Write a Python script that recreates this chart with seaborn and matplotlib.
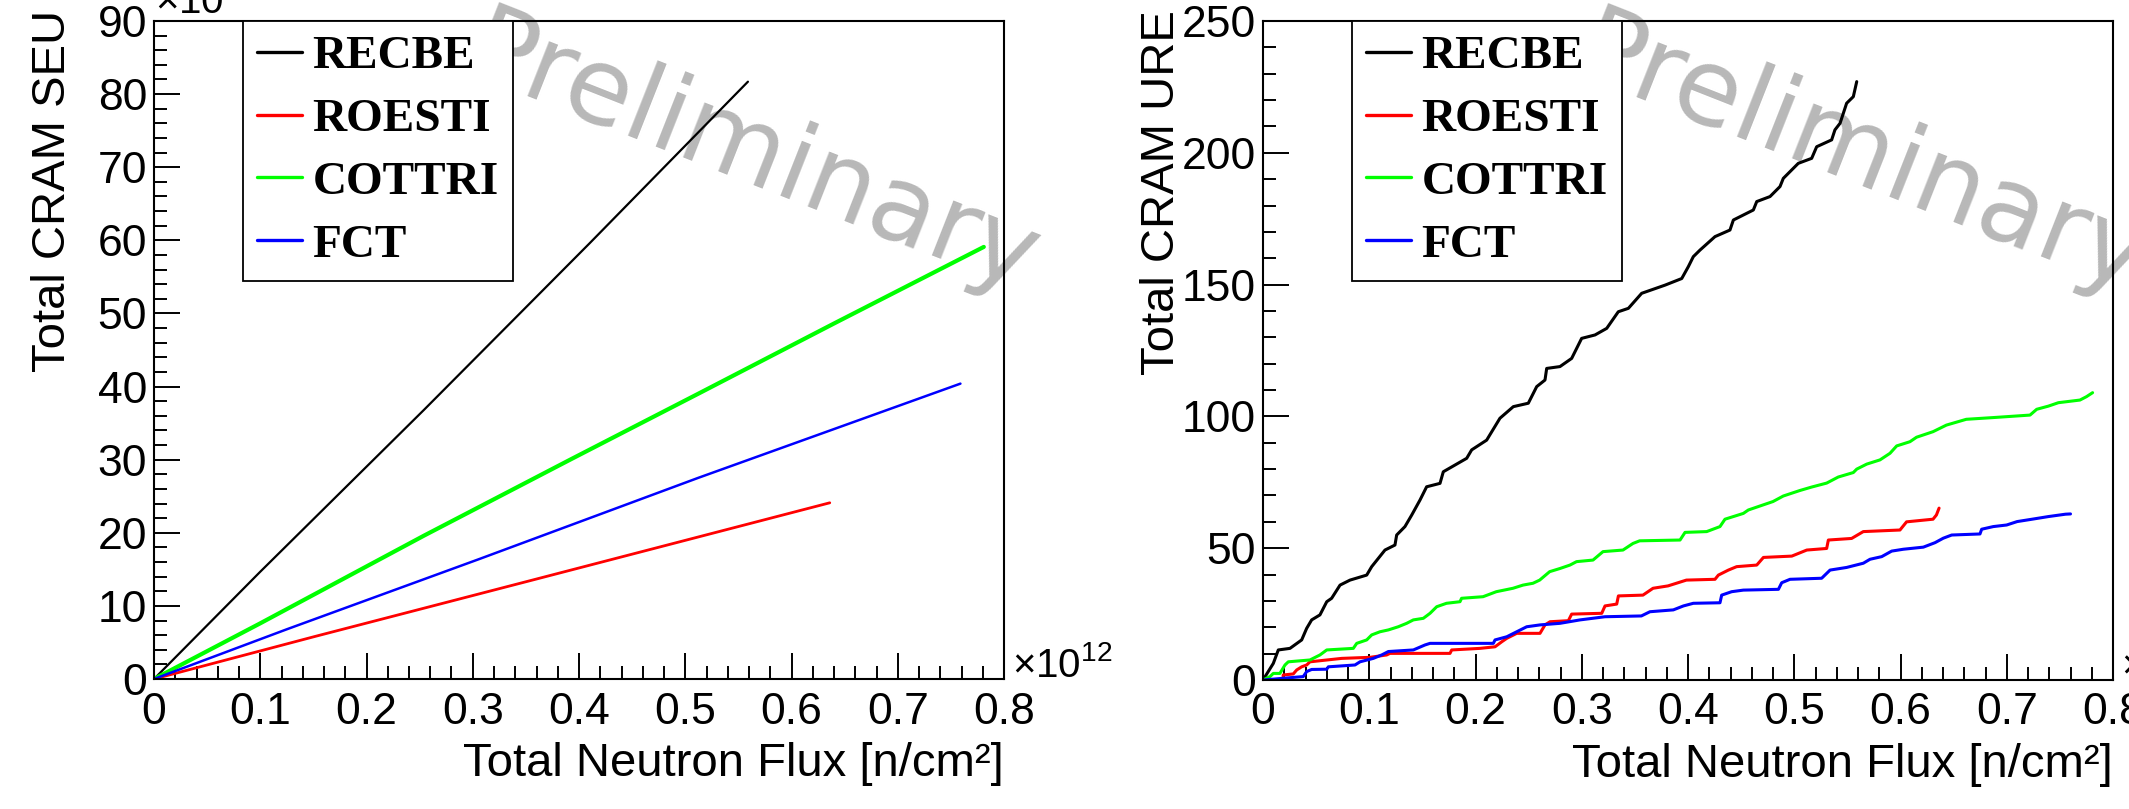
import matplotlib
matplotlib.use('Agg')
import matplotlib.pyplot as plt
from matplotlib.ticker import MultipleLocator
import seaborn as sns

# ---- data (flux in units of 1e12 n/cm^2) ----
names = ['RECBE', 'ROESTI', 'COTTRI', 'FCT']
colors = ['#000000', '#ff0000', '#00ff00', '#0000ff']

# left panel: total CRAM SEU (x1e3)
seu_recbe_x = [0, 0.0995, 0.254, 0.41, 0.559]
seu_recbe_y = [0, 14.6, 36.8, 59.6, 81.7]
seu_roesti_x = [0, 0.151, 0.358, 0.636]
seu_roesti_y = [0, 5.8, 13.6, 24.1]
seu_cottri_x = [0, 0.0998, 0.254, 0.393, 0.512, 0.641, 0.781]
seu_cottri_y = [0, 7.6, 19.6, 30.1, 39.0, 48.7, 59.1]
seu_fct_x = [0, 0.125, 0.306, 0.512, 0.759]
seu_fct_y = [0, 6.8, 16.4, 27.5, 40.4]

# right panel: total CRAM URE
ure_recbe_x = [0, 0.0097, 0.0144, 0.0254, 0.0364, 0.0411, 0.0458, 0.0536, 0.06, 0.0646,
               0.0725, 0.0819, 0.0976, 0.1023, 0.1148, 0.1242, 0.1258, 0.1336, 0.14, 0.1478,
               0.154, 0.1666, 0.1697, 0.1917, 0.1964, 0.2105, 0.223, 0.2356, 0.2497, 0.2576,
               0.2654, 0.267, 0.2795, 0.2905, 0.2999, 0.3125, 0.3235, 0.3344, 0.3439, 0.3564,
               0.3784, 0.3941, 0.4003, 0.405, 0.4113, 0.4254, 0.4395, 0.4427, 0.4615, 0.4647,
               0.4772, 0.4866, 0.4897, 0.5038, 0.5164, 0.5211, 0.5352, 0.5383, 0.5431, 0.5493,
               0.5556, 0.5588]
ure_recbe_y = [0, 6.3, 11.4, 12, 15.2, 19.6, 22.8, 24.7, 29.7, 31,
               36, 37.9, 39.8, 43, 49.3, 51.2, 55, 58.2, 62.6, 68.3,
               73.3, 74.6, 79, 84.1, 87.3, 91, 99.3, 103.7, 105, 111.3,
               113.8, 118.2, 118.9, 122, 129.6, 130.9, 133.4, 139.7, 141, 146.7,
               149.8, 152.3, 156.8, 160.6, 163.1, 168.2, 170.7, 174.5, 178.3, 181.5,
               183.4, 187.2, 190.3, 196, 197.9, 202.3, 204.9, 208.7, 211.2, 218.8,
               221.3, 227]

ure_roesti_x = [0, 0.019, 0.019, 0.0285, 0.0317, 0.0364, 0.0411, 0.0442, 0.0741, 0.1007,
                0.1164, 0.1195, 0.176, 0.1776, 0.2042, 0.2184, 0.2247, 0.2294, 0.2388, 0.2607,
                0.2654, 0.2701, 0.2874, 0.2905, 0.3188, 0.3219, 0.3329, 0.3345, 0.3576, 0.3671,
                0.3812, 0.3985, 0.4254, 0.4286, 0.438, 0.4458, 0.4647, 0.471, 0.4977, 0.5118,
                0.5305, 0.5321, 0.554, 0.565, 0.5995, 0.6057, 0.6306, 0.6338, 0.6363]
ure_roesti_y = [0, 0, 1.9, 2.3, 3.8, 5, 5.7, 6.9, 8.2, 8.6,
                9.5, 10.1, 10.1, 11.4, 12, 12.6, 14.5, 15.8, 17.7, 17.7,
                20.9, 22.1, 22.5, 25, 25.3, 28.1, 28.8, 31.9, 32.2, 34.8,
                35.7, 37.9, 38.2, 39.8, 41.7, 43, 43.6, 46.5, 47, 49.3,
                49.9, 53.1, 53.7, 56.3, 56.9, 60, 61, 62.6, 65.2]

ure_cottri_x = [0, 0.0066, 0.0097, 0.0159, 0.0207, 0.0238, 0.0442, 0.0536, 0.06, 0.085,
                0.0882, 0.0976, 0.1023, 0.1101, 0.118, 0.1273, 0.1352, 0.1415, 0.1509, 0.1572,
                0.1635, 0.1727, 0.1854, 0.1869, 0.2071, 0.2196, 0.2353, 0.2447, 0.2541, 0.2604,
                0.2698, 0.2795, 0.2889, 0.2951, 0.3106, 0.32, 0.3388, 0.3482, 0.3545, 0.3925,
                0.3972, 0.4176, 0.4301, 0.4348, 0.4521, 0.4568, 0.48, 0.4897, 0.5054, 0.5164,
                0.5305, 0.5414, 0.5556, 0.5588, 0.5682, 0.5807, 0.5901, 0.5964, 0.6089, 0.6151,
                0.6306, 0.6432, 0.6619, 0.6889, 0.7219, 0.7282, 0.7392, 0.7486, 0.7689, 0.7751,
                0.7808]
ure_cottri_y = [0, 1.3, 2.5, 2.5, 5.7, 6.9, 7.6, 9.5, 11.4, 12,
                13.9, 15.2, 17.1, 18.3, 19, 20.2, 21.5, 22.8, 23.4, 25.3,
                27.8, 29.1, 29.7, 31, 31.6, 33.5, 34.8, 36, 36.7, 37.9,
                41.1, 42.3, 43.6, 44.9, 45.5, 48.7, 49.3, 51.8, 52.8, 53.1,
                56, 56.3, 58.2, 61, 63.2, 64.5, 67.7, 69.8, 71.9, 73.2,
                74.7, 77, 78.7, 80, 81.9, 83.5, 86, 88.8, 90.4, 92.1,
                94.2, 96.7, 98.9, 99.6, 100.5, 102.7, 103.9, 105.2, 106.2, 107.5,
                109]

ure_fct_x = [0, 0.0379, 0.0411, 0.0458, 0.06, 0.0615, 0.0866, 0.0913, 0.1038, 0.1117,
             0.118, 0.1415, 0.1525, 0.1572, 0.2168, 0.2184, 0.2294, 0.2388, 0.2482, 0.2607,
             0.2795, 0.2984, 0.3219, 0.3561, 0.3642, 0.3862, 0.3957, 0.405, 0.4301, 0.4317,
             0.4411, 0.4521, 0.4851, 0.4882, 0.496, 0.5258, 0.5337, 0.5493, 0.565, 0.5713,
             0.5823, 0.5917, 0.6026, 0.6215, 0.6325, 0.6403, 0.6482, 0.6748, 0.6764, 0.6873,
             0.6999, 0.7098, 0.7239, 0.7392, 0.7553, 0.76]
ure_fct_y = [0, 1.3, 3.2, 4, 4.1, 5, 5.7, 6.9, 8.2, 9.5,
             10.8, 11.4, 13.3, 13.9, 13.9, 15.2, 16.4, 18.3, 20.2, 20.9,
             21.5, 22.8, 24, 24.3, 25.9, 26.6, 28.1, 29.1, 29.3, 32.2,
             33.5, 34.1, 34.4, 36.9, 38.2, 38.6, 41.7, 42.7, 44.3, 45.8,
             46.8, 48.9, 49.6, 50.4, 52.1, 53.8, 55, 55.4, 57.2, 58.2,
             58.8, 60.1, 61, 62, 62.9, 63]

x_ticks = [0, 0.1, 0.2, 0.3, 0.4, 0.5, 0.6, 0.7, 0.8]
x_ticklabels = ['0', '0.1', '0.2', '0.3', '0.4', '0.5', '0.6', '0.7', '0.8']
seu_ticks = [0, 10, 20, 30, 40, 50, 60, 70, 80, 90]
ure_ticks = [0, 50, 100, 150, 200, 250]

# ---- style ----
sns.set_style('ticks')
plt.rcParams['font.family'] = ['Liberation Sans', 'DejaVu Sans']
plt.rcParams['mathtext.fontset'] = 'custom'
plt.rcParams['mathtext.rm'] = 'Liberation Sans'
plt.rcParams['mathtext.it'] = 'Liberation Sans:italic'
plt.rcParams['text.color'] = 'black'
plt.rcParams['axes.labelcolor'] = 'black'
plt.rcParams['xtick.color'] = 'black'
plt.rcParams['ytick.color'] = 'black'

W, H = 2129, 809
fig = plt.figure(figsize=(W / 100, H / 100), dpi=100)
ax1 = fig.add_axes([154 / W, 130 / H, 850 / W, 658 / H])
ax2 = fig.add_axes([1263 / W, 129 / H, 850 / W, 659 / H])

left_series = [(seu_recbe_x, seu_recbe_y, 1.6), (seu_roesti_x, seu_roesti_y, 2.0),
               (seu_cottri_x, seu_cottri_y, 3.0), (seu_fct_x, seu_fct_y, 1.8)]
right_series = [(ure_recbe_x, ure_recbe_y), (ure_roesti_x, ure_roesti_y),
                (ure_cottri_x, ure_cottri_y), (ure_fct_x, ure_fct_y)]

for (xs, ys, lw), name, c in zip(left_series, names, colors):
    sns.lineplot(x=xs, y=ys, ax=ax1, color=c, lw=lw, label=name,
                 estimator=None, sort=False)
for (xs, ys), name, c in zip(right_series, names, colors):
    sns.lineplot(x=xs, y=ys, ax=ax2, color=c, lw=2.2, label=name,
                 estimator=None, sort=False)

for ax, yt, ymax, ymin_step, ylab in [(ax1, seu_ticks, 90, 2, 'Total CRAM SEU'),
                                      (ax2, ure_ticks, 250, 10, 'Total CRAM URE')]:
    ax.set_xlim(0, 0.8)
    ax.set_ylim(0, ymax)
    ax.set_xticks(x_ticks)
    ax.set_xticklabels(x_ticklabels)
    ax.set_yticks(yt)
    ax.set_yticklabels([str(v) for v in yt])
    ax.xaxis.set_minor_locator(MultipleLocator(0.02))
    ax.yaxis.set_minor_locator(MultipleLocator(ymin_step))
    ax.tick_params(which='both', direction='in', top=False, right=False,
                   width=1.4, labelsize=32)
    ax.tick_params(which='major', length=18.5)
    ax.tick_params(which='minor', length=9.3)
    ax.tick_params(axis='x', pad=9)
    ax.tick_params(axis='y', pad=5)
    for s in ax.spines.values():
        s.set_linewidth(1.5)
        s.set_color('black')
    ax.set_xlabel('Total Neutron Flux [n/cm²]', fontsize=34, loc='right')
    ax.xaxis.set_label_coords(1.0, -0.0957)
    ax.set_ylabel(ylab, fontsize=34, loc='top')
    ax.yaxis.set_label_coords(-0.093, 1.017)

    leg = ax.legend(loc='upper left', bbox_to_anchor=(0.105, 1.0), borderaxespad=0,
                    frameon=True, fancybox=False, edgecolor='black', framealpha=1,
                    prop={'family': 'Liberation Serif', 'weight': 'bold', 'size': 34},
                    handlelength=0.95, handletextpad=0.22, labelspacing=0.42,
                    borderpad=0.3)
    leg.get_frame().set_linewidth(1.3)
    for h in leg.get_lines():
        h.set_linewidth(2.4)

    ax.text(0.7035, 0.793, 'Preliminary', transform=ax.transAxes, rotation=-21.5,
            rotation_mode='anchor', ha='center', va='center', fontsize=77,
            color='#b8b8b8', family='DejaVu Sans', zorder=1, clip_on=False)
    ax.text(1.0094, 0.003, r'$\times10^{12}$', transform=ax.transAxes,
            ha='left', va='baseline', fontsize=29, clip_on=False)

ax1.text(0.001, 1.012, r'$\times10^{3}$', transform=ax1.transAxes,
         ha='left', va='baseline', fontsize=29, clip_on=False)

fig.savefig('out.png', dpi=100)
